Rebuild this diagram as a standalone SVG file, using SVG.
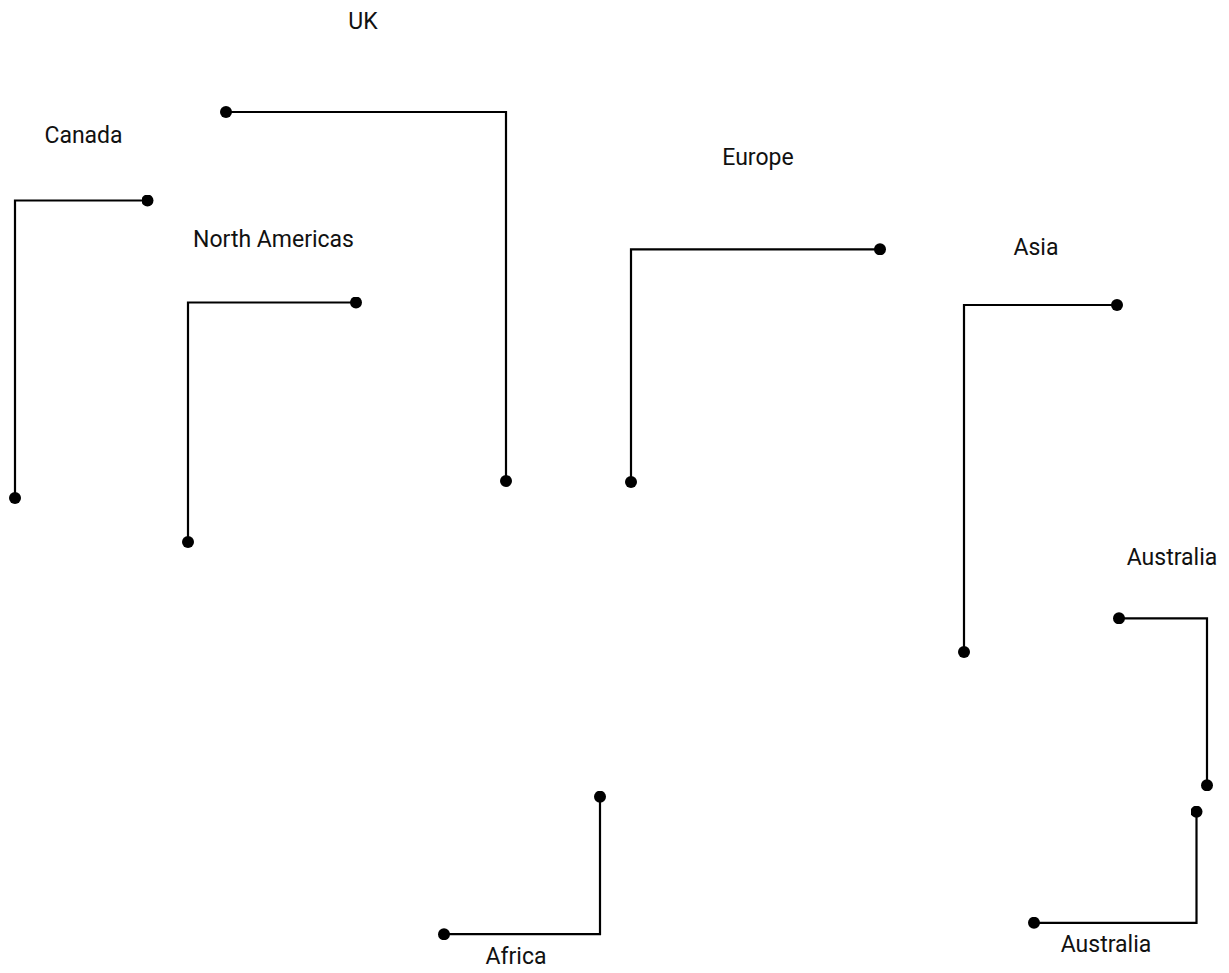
<svg xmlns="http://www.w3.org/2000/svg" width="1229" height="973" viewBox="0 0 1229 973">
  <style>
    .lbl { font-family: Roboto, "Liberation Sans", sans-serif; font-size: 23px; fill: #111; text-anchor: middle; }
    .lead { fill: none; stroke: #000; stroke-width: 2.2; marker-start: url(#dot); marker-end: url(#dot); }
  </style>
  <defs>
    <marker id="dot" viewBox="0 0 12 12" refX="6" refY="6" markerWidth="12" markerHeight="12" markerUnits="userSpaceOnUse">
      <circle cx="6" cy="6" r="6" fill="#000"/>
    </marker>
  </defs>
  <rect width="1229" height="973" fill="#fff"/>
  <g id="connectors">
    <path class="lead" d="M147.5,200.5 H15 V498"/>
    <path class="lead" d="M226,112 H506 V481"/>
    <path class="lead" d="M356,302.5 H188 V542"/>
    <path class="lead" d="M880,249.3 H631 V482"/>
    <path class="lead" d="M1117,305 H964 V652"/>
    <path class="lead" d="M1119,618.3 H1207 V785.3"/>
    <path class="lead" d="M1196.5,811.7 V922.8 H1034"/>
    <path class="lead" d="M600,796.7 V934.2 H444"/>
  </g>
  <g id="uk"><text class="lbl" x="363" y="29">UK</text></g>
  <g id="canada"><text class="lbl" x="83.5" y="143">Canada</text></g>
  <g id="north-americas"><text class="lbl" x="273.5" y="247">North Americas</text></g>
  <g id="europe"><text class="lbl" x="758" y="165">Europe</text></g>
  <g id="asia"><text class="lbl" x="1036" y="255">Asia</text></g>
  <g id="australia-right"><text class="lbl" x="1172" y="565">Australia</text></g>
  <g id="africa"><text class="lbl" x="516" y="964">Africa</text></g>
  <g id="australia-bottom"><text class="lbl" x="1106" y="952">Australia</text></g>
</svg>
